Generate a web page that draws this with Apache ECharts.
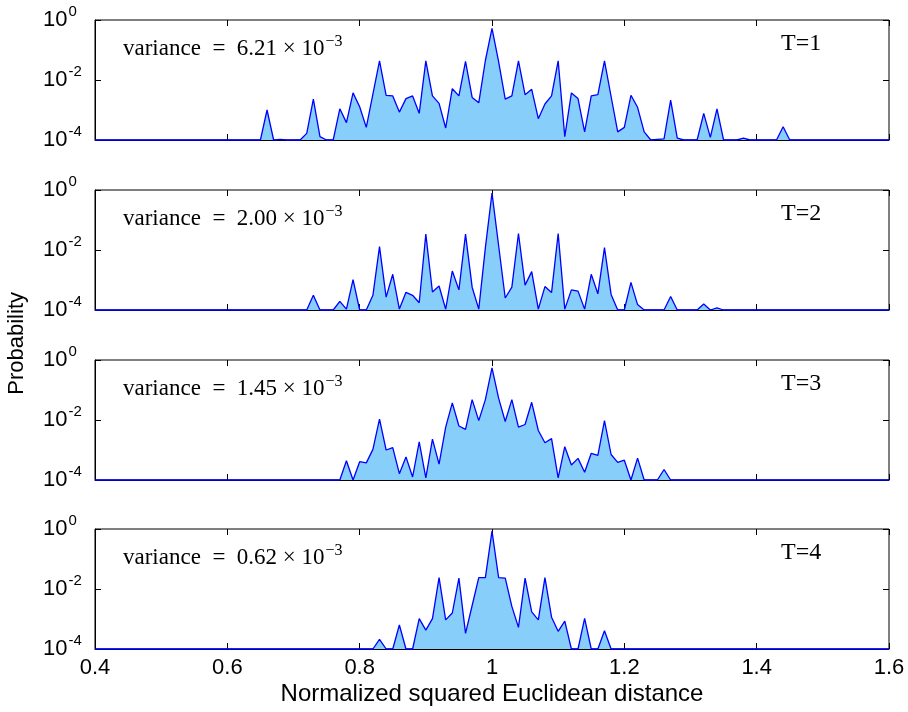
<!DOCTYPE html>
<html>
<head>
<meta charset="utf-8">
<script src="https://cdn.jsdelivr.net/npm/echarts@6/dist/echarts.min.js"></script>
<style>html,body{margin:0;padding:0;background:#fff}#c{width:908px;height:712px}</style>
</head>
<body>
<div id="c"></div>
<script>
// bin centres (normalized squared Euclidean distance)
const bins = [0.40,0.41,0.42,0.43,0.44,0.45,0.46,0.47,0.48,0.49,
0.50,0.51,0.52,0.53,0.54,0.55,0.56,0.57,0.58,0.59,
0.60,0.61,0.62,0.63,0.64,0.65,0.66,0.67,0.68,0.69,
0.70,0.71,0.72,0.73,0.74,0.75,0.76,0.77,0.78,0.79,
0.80,0.81,0.82,0.83,0.84,0.85,0.86,0.87,0.88,0.89,
0.90,0.91,0.92,0.93,0.94,0.95,0.96,0.97,0.98,0.99,
1.00,1.01,1.02,1.03,1.04,1.05,1.06,1.07,1.08,1.09,
1.10,1.11,1.12,1.13,1.14,1.15,1.16,1.17,1.18,1.19,
1.20,1.21,1.22,1.23,1.24,1.25,1.26,1.27,1.28,1.29,
1.30,1.31,1.32,1.33,1.34,1.35,1.36,1.37,1.38,1.39,
1.40,1.41,1.42,1.43,1.44,1.45,1.46,1.47,1.48,1.49,
1.50,1.51,1.52,1.53,1.54,1.55,1.56,1.57,1.58,1.59,1.60];

// log10 of probability per bin (-4 = at/below the 1e-4 floor)
const logProbT1 = [-4,-4,-4,-4,-4,-4,-4,-4,-4,-4,
-4,-4,-4,-4,-4,-4,-4,-4,-4,-4,
-4,-4,-4,-4,-4,-4,-3.0,-4,-3.98,-4,
-4,-4,-3.78,-2.64,-3.89,-4,-4,-2.96,-3.42,-2.43,
-2.89,-3.58,-2.47,-1.36,-2.51,-2.53,-3.07,-2.62,-2.53,-3.11,
-1.36,-2.53,-2.78,-3.6,-2.29,-2.53,-1.38,-2.58,-2.76,-1.35,
-0.28,-1.39,-2.64,-2.53,-1.36,-2.49,-2.31,-3.29,-2.8,-2.53,
-1.36,-3.89,-2.43,-2.62,-3.73,-2.53,-2.49,-1.36,-2.55,-3.73,
-3.58,-2.51,-2.91,-3.73,-4,-3.98,-3.96,-2.67,-3.94,-4,
-4,-4,-3.11,-3.91,-2.96,-4,-4,-4,-3.94,-4,
-4,-4,-4,-4,-3.56,-4,-4,-4,-4,-4,
-4,-4,-4,-4,-4,-4,-4,-4,-4,-4,-4];
const logProbT2 = [-4,-4,-4,-4,-4,-4,-4,-4,-4,-4,
-4,-4,-4,-4,-4,-4,-4,-4,-4,-4,
-4,-4,-4,-4,-4,-4,-4,-4,-4,-4,
-4,-4,-4,-3.51,-4,-4,-4,-3.71,-3.97,-2.99,
-4,-4,-3.51,-1.89,-3.57,-2.81,-3.97,-3.41,-3.51,-3.76,
-1.47,-3.4,-3.2,-3.97,-2.7,-3.33,-1.47,-3.24,-3.97,-1.92,
-0.1,-1.85,-3.6,-3.24,-1.45,-3.17,-2.72,-3.97,-3.22,-3.42,
-1.45,-3.97,-3.33,-3.37,-3.97,-2.81,-3.46,-1.92,-3.48,-4,
-4,-3.08,-3.82,-4,-4,-4,-4,-3.55,-4,-4,
-4,-4,-3.8,-4,-3.93,-4,-4,-4,-4,-4,
-4,-4,-4,-4,-4,-4,-4,-4,-4,-4,
-4,-4,-4,-4,-4,-4,-4,-4,-4,-4,-4];
const logProbT3 = [-4,-4,-4,-4,-4,-4,-4,-4,-4,-4,
-4,-4,-4,-4,-4,-4,-4,-4,-4,-4,
-4,-4,-4,-4,-4,-4,-4,-4,-4,-4,
-4,-4,-4,-4,-4,-4,-4,-4,-3.36,-4,
-3.39,-3.43,-2.98,-1.97,-3.0,-2.92,-3.79,-3.23,-3.9,-2.73,
-3.93,-2.64,-3.47,-2.24,-1.43,-2.2,-2.31,-1.32,-2.02,-1.32,
-0.26,-1.27,-2.05,-1.32,-2.24,-2.15,-1.41,-2.35,-2.76,-2.62,
-3.93,-2.89,-3.5,-3.28,-3.74,-3.11,-3.18,-2.02,-3.15,-3.41,
-3.34,-4,-3.27,-4,-4,-4,-3.65,-4,-4,-4,
-4,-4,-4,-4,-4,-4,-4,-4,-4,-4,
-4,-4,-4,-4,-4,-4,-4,-4,-4,-4,
-4,-4,-4,-4,-4,-4,-4,-4,-4,-4,-4];
const logProbT4 = [-4,-4,-4,-4,-4,-4,-4,-4,-4,-4,
-4,-4,-4,-4,-4,-4,-4,-4,-4,-4,
-4,-4,-4,-4,-4,-4,-4,-4,-4,-4,
-4,-4,-4,-4,-4,-4,-4,-4,-4,-4,
-4,-4,-4,-3.68,-4,-4,-3.2,-4,-4,-2.99,
-3.37,-2.99,-1.62,-3.03,-2.8,-1.64,-3.48,-2.55,-1.62,-1.62,
-0.07,-1.62,-1.64,-2.58,-3.28,-1.64,-2.76,-3.03,-1.62,-2.94,
-3.41,-3.07,-4,-4,-2.98,-4,-4,-3.39,-4,-4,
-4,-4,-4,-4,-4,-4,-4,-4,-4,-4,
-4,-4,-4,-4,-4,-4,-4,-4,-4,-4,
-4,-4,-4,-4,-4,-4,-4,-4,-4,-4,
-4,-4,-4,-4,-4,-4,-4,-4,-4,-4,-4];

const panelLabels = ['T=1','T=2','T=3','T=4'];
const varianceLabels = ['6.21','2.00','1.45','0.62'];
const xTicks = {min:0.4, max:1.6, interval:0.2};
const yRange = {min:1e-4, max:1};
const allLogProb = [logProbT1, logProbT2, logProbT3, logProbT4];

const gridTops = [20, 190, 360, 529];
const gridH = 120, gridL = 95, gridW = 794;
const sansFont = 'Liberation Sans, Arial, Helvetica, sans-serif';
const serifFont = 'Liberation Serif, Times New Roman, serif';

const grids = [], xAxes = [], yAxes = [], series = [], graphics = [];
gridTops.forEach((top, k) => {
  grids.push({left: gridL, top: top, width: gridW, height: gridH, show: true,
              borderColor: '#000', borderWidth: 1, backgroundColor: '#fff'});
  const isLast = k === gridTops.length - 1;
  xAxes.push({type: 'value', gridIndex: k, min: xTicks.min, max: xTicks.max, interval: xTicks.interval,
    position: 'bottom',
    axisLine: {show: true, lineStyle: {color: '#000', width: 1}},
    axisTick: {show: true, inside: true, length: 6, lineStyle: {color: '#000'}},
    axisLabel: {show: isLast, color: '#000', fontSize: 22, fontFamily: sansFont, margin: 8},
    splitLine: {show: false},
    name: isLast ? 'Normalized squared Euclidean distance' : '',
    nameLocation: 'middle', nameGap: 33,
    nameTextStyle: {color: '#000', fontSize: 24, fontFamily: sansFont}});
  xAxes.push({type: 'value', gridIndex: k, min: xTicks.min, max: xTicks.max, interval: xTicks.interval,
    position: 'top',
    axisLine: {show: false},
    axisTick: {show: true, inside: true, length: 6, lineStyle: {color: '#000'}},
    axisLabel: {show: false}, splitLine: {show: false}});
  yAxes.push({type: 'log', logBase: 10, gridIndex: k, min: yRange.min, max: yRange.max, interval: 2,
    position: 'left',
    axisLine: {show: true, lineStyle: {color: '#000', width: 1}},
    axisTick: {show: true, inside: true, length: 6, lineStyle: {color: '#000'}},
    minorTick: {show: false}, splitLine: {show: false},
    axisLabel: {show: true, color: '#000', fontFamily: sansFont, align: 'left', margin: 52,
      formatter: function (v) {
        const e = Math.round(Math.log10(v));
        return '{b|10}{s|' + (e === 0 ? '0' : '-' + (-e)) + '}';
      },
      rich: {
        b: {fontSize: 22, fontFamily: sansFont, color: '#000'},
        s: {fontSize: 15, fontFamily: sansFont, color: '#000', padding: [0, 0, 16, 1]}
      }}});
  yAxes.push({type: 'log', logBase: 10, gridIndex: k, min: yRange.min, max: yRange.max, interval: 2,
    position: 'right',
    axisLine: {show: false},
    axisTick: {show: true, inside: true, length: 6, lineStyle: {color: '#000'}},
    axisLabel: {show: false}, splitLine: {show: false}, minorTick: {show: false}});
  const lp = allLogProb[k];
  series.push({type: 'line', xAxisIndex: 2 * k, yAxisIndex: 2 * k, symbol: 'none', clip: false,
    lineStyle: {color: '#0000ff', width: 1.3},
    areaStyle: {color: '#87cefa', opacity: 1, origin: 'start'},
    data: bins.map((x, i) => [x, Math.pow(10, lp[i])]), z: 3});
  graphics.push({type: 'text', left: 123, top: top + 14, z: 10,
    style: {text: '{a|variance  =  ' + varianceLabels[k] + ' × 10}{s|−3}',
      rich: {a: {fontSize: 23, fontFamily: serifFont, fill: '#000'},
             s: {fontSize: 16, fontFamily: serifFont, fill: '#000', padding: [0, 0, 14, 1]}}}});
  graphics.push({type: 'text', left: 781, top: top + 12, z: 10,
    style: {text: panelLabels[k], fontSize: 24, fontFamily: serifFont, fill: '#000'}});
});
graphics.push({type: 'text', left: 6, top: 292, rotation: Math.PI / 2, z: 10,
  style: {text: 'Probability', fontSize: 22, fontFamily: sansFont, fill: '#000'}});

const chart = echarts.init(document.getElementById('c'), null, {renderer: 'canvas'});
chart.setOption({animation: false, backgroundColor: '#fff', grid: grids, xAxis: xAxes, yAxis: yAxes,
  series: series, graphic: graphics});
</script>
</body>
</html>
